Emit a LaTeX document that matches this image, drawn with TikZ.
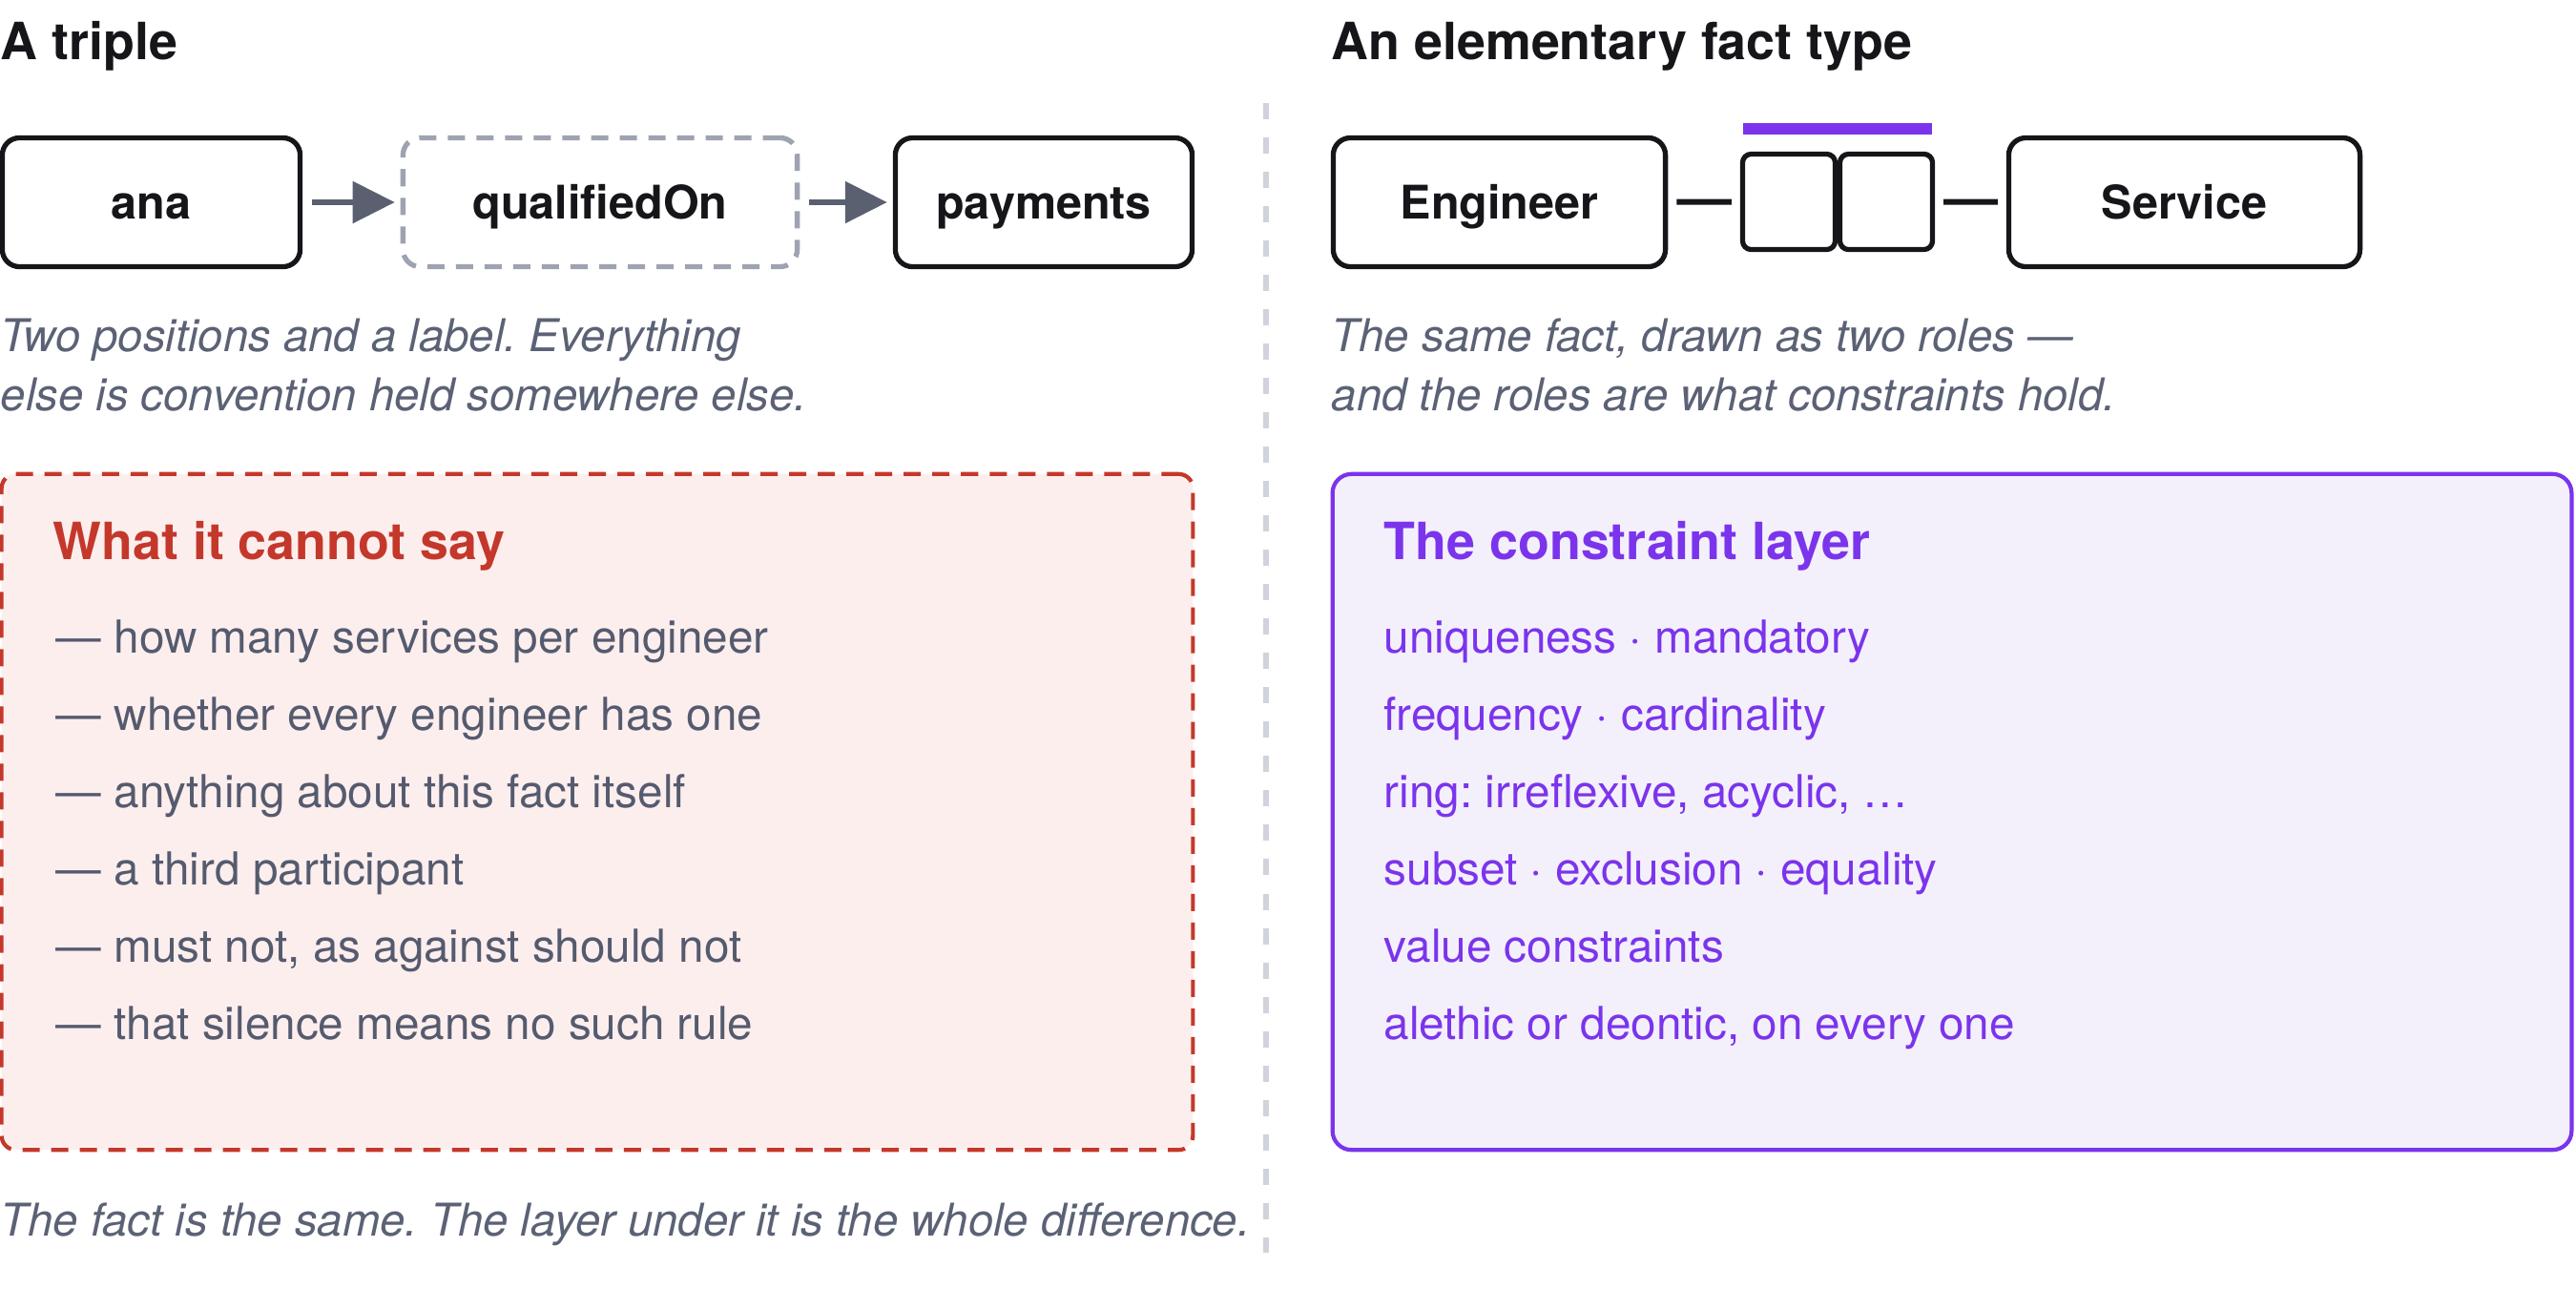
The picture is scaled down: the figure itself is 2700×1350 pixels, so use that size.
\documentclass[tikz,border=0pt]{standalone}
\usepackage{fontspec}
\setmainfont{TeX Gyre Heros}
\usetikzlibrary{arrows.meta}
\frenchspacing

\definecolor{ink}{HTML}{16161A}
\definecolor{capgray}{HTML}{5B6275}
\definecolor{arrowgray}{HTML}{5B6070}
\definecolor{dashgray}{HTML}{9EA3B1}
\definecolor{sepgray}{HTML}{D0D3DC}
\definecolor{noRed}{HTML}{C4382B}
\definecolor{noFill}{HTML}{FDEEEE}
\definecolor{listgray}{HTML}{555B6E}
\definecolor{layerPurple}{HTML}{7B34EC}
\definecolor{layerFill}{HTML}{F3F0FB}

\begin{document}
\begin{tikzpicture}[x=0.01cm, y=-0.01cm,
	title/.style={anchor=base west, inner sep=0, text=ink, font=\fontsize{15.3}{18}\selectfont\bfseries},
	caption/.style={anchor=base west, inner sep=0, text=capgray, font=\fontsize{13.45}{16}\selectfont\itshape},
	item/.style={anchor=base west, inner sep=0, font=\fontsize{13.55}{16}\selectfont},
	termbox/.style={draw=ink, line width=1.5pt, rounded corners=0.18cm, minimum height=1.35cm,
		text height=0.46cm, text depth=0.12cm, text=ink, font=\fontsize{13.8}{16}\selectfont\bfseries},
	labelbox/.style={termbox, draw=dashgray, dash pattern=on 0.18cm off 0.12cm},
	rolebox/.style={draw=ink, line width=1.5pt, rounded corners=0.09cm, minimum width=0.97cm, minimum height=1cm},
	flow/.style={draw=arrowgray, line width=1.6pt, -{Triangle[length=0.44cm, width=0.43cm]},
		shorten <=0.1cm, shorten >=0.06cm},
	link/.style={draw=ink, line width=1.7pt, shorten <=0.09cm, shorten >=0.09cm},
	panel/.style={line width=1.2pt, minimum height=7.08cm}]
	\useasboundingbox (0, 0) rectangle (2700, 1350);

	\coordinate (sepTop) at (1327, 108);
	\coordinate (sepBot) at (1327, 1313);
	\draw [sepgray, line width=1.7pt, dash pattern=on 0.17cm off 0.19cm] (sepTop) -- (sepBot);

	\node[title] (tripleTitle) at (0, 62) {A triple};
	\node[termbox, minimum width=3.12cm] (ana) at (158.5, 212) {ana};
	\node[labelbox, minimum width=4.13cm] (qualified) at (629, 212) {qualifiedOn};
	\node[termbox, minimum width=3.11cm] (payments) at (1094, 212) {payments};
	\draw[flow] (ana) -- (qualified);
	\draw[flow] (qualified) -- (payments);
	\node[caption] (tripleCapA) at (0, 368) {Two positions and a label. Everything};
	\node[caption] (tripleCapB) at (0, 430) {else is convention held somewhere else.};

	\node[title] (factTitle) at (1395, 62) {An elementary fact type};
	\node[termbox, minimum width=3.48cm] (engineer) at (1571.5, 212) {Engineer};
	\node[rolebox] (roleA) at (1875, 211.5) {};
	\node[rolebox] (roleB) at (1977, 211.5) {};
	\node[termbox, minimum width=3.68cm] (service) at (2289.5, 212) {Service};
	\fill[layerPurple] (1827, 129) rectangle (2025, 141);
	\draw[link] (engineer) -- (roleA);
	\draw[link] (roleB) -- (service);
	\node[caption] (factCapA) at (1395, 368) {The same fact, drawn as two roles —};
	\node[caption] (factCapB) at (1395, 430) {and the roles are what constraints hold.};

	\node[panel, draw=noRed, fill=noFill, dash pattern=on 0.18cm off 0.12cm,
		rounded corners=0.15cm, minimum width=12.48cm] (cannotBox) at (626, 851) {};
	\node[title, text=noRed] (cannotTitle) at (55, 586) {What it cannot say};
	\node[item, text=listgray] (cannot1) at (58, 684) {— how many services per engineer};
	\node[item, text=listgray] (cannot2) at (58, 765) {— whether every engineer has one};
	\node[item, text=listgray] (cannot3) at (58, 846) {— anything about this fact itself};
	\node[item, text=listgray] (cannot4) at (58, 927) {— a third participant};
	\node[item, text=listgray] (cannot5) at (58, 1008) {— must not, as against should not};
	\node[item, text=listgray] (cannot6) at (58, 1089) {— that silence means no such rule};

	\node[panel, draw=layerPurple, fill=layerFill, rounded corners=0.2cm,
		minimum width=12.98cm] (layerBox) at (2046, 851) {};
	\node[title, text=layerPurple] (layerTitle) at (1450, 586) {The constraint layer};
	\node[item, text=layerPurple] (layer1) at (1450, 684) {uniqueness · mandatory};
	\node[item, text=layerPurple] (layer2) at (1450, 765) {frequency · cardinality};
	\node[item, text=layerPurple] (layer3) at (1450, 846) {ring: irreflexive, acyclic, …};
	\node[item, text=layerPurple] (layer4) at (1450, 927) {subset · exclusion · equality};
	\node[item, text=layerPurple] (layer5) at (1450, 1008) {value constraints};
	\node[item, text=layerPurple] (layer6) at (1450, 1089) {alethic or deontic, on every one};

	\node[caption] (bottomCap) at (0, 1295) {The fact is the same. The layer under it is the whole difference.};
\end{tikzpicture}
\end{document}
